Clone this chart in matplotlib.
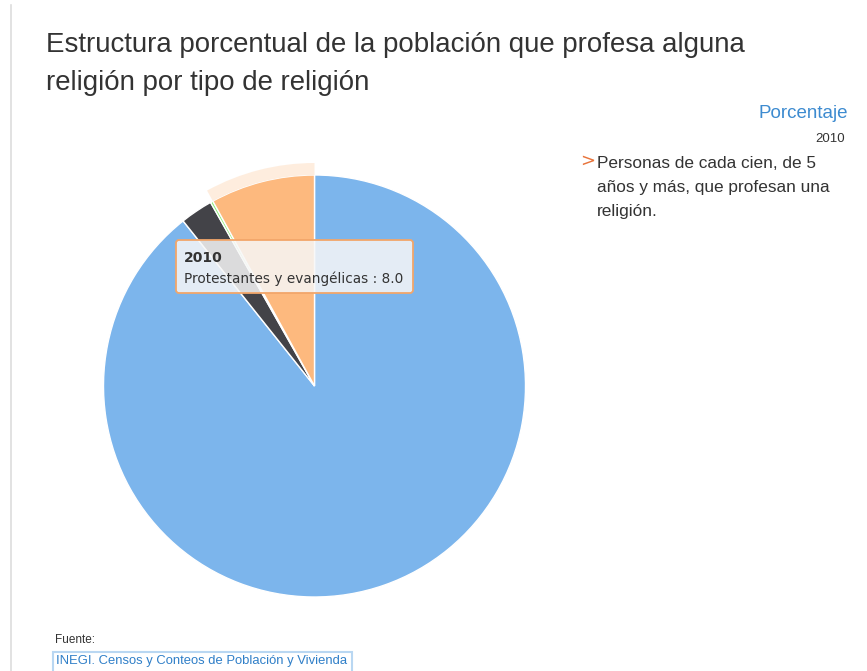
import matplotlib.pyplot as plt
from matplotlib.patches import Wedge, FancyBboxPatch, Rectangle

# Religion structure, 2010 (percent of people 5+ who profess a religion)
categorias = ['Católica', 'Bíblicas diferentes de evangélicas', 'Otras religiones',
              'Protestantes y evangélicas']
valores = [89.3, 2.5, 0.2, 8.0]
colores = ['#7cb5ec', '#434348', '#90ed7d', '#fdb97e']
anio = '2010'
resaltado = 3  # slice under the tooltip

W, H = 867, 671
fig = plt.figure(figsize=(W / 100, H / 100), dpi=100)
ax = fig.add_axes([0, 0, 1, 1])

def py(y):  # pixel row -> data y
    return H - y

cx, cy, r = 314.5, py(386), 211
wedges, _ = ax.pie(valores, colors=colores, startangle=90, counterclock=False,
                   center=(cx, cy), radius=r,
                   wedgeprops=dict(edgecolor='white', linewidth=1))

# hover halo around the highlighted slice
w = wedges[resaltado]
ax.add_patch(Wedge((cx, cy), r + 12, w.theta1, w.theta2, width=12,
                   facecolor=colores[resaltado], alpha=0.25, edgecolor='none'))

ax.set_xlim(0, W)
ax.set_ylim(0, H)
ax.set_aspect('auto')
ax.axis('off')

# left border line
ax.plot([11, 11], [py(5), py(671)], color='#dddddd', lw=1.2)

titulo = 'Estructura porcentual de la población que profesa alguna\nreligión por tipo de religión'
ax.text(46, py(32), titulo, fontsize=19.9, family='Liberation Sans', color='#333333',
        va='top', ha='left', linespacing=1.58)

ax.text(848, py(113), 'Porcentaje', fontsize=13.5, family='Liberation Sans',
        color='#3d8bd0', ha='right', va='center')
ax.text(845, py(139), anio, fontsize=9.5, family='Liberation Sans',
        color='#333333', ha='right', va='center')
ax.text(580, py(161), '>', fontsize=13, family='DejaVu Sans', color='#e8743b',
        ha='left', va='center')
ax.text(597, py(156), 'Personas de cada cien, de 5\naños y más, que profesan una\nreligión.',
        fontsize=12.4, family='Liberation Sans', color='#333333', ha='left', va='top',
        linespacing=1.76)

# tooltip
tt = FancyBboxPatch((176, py(293)), 237, 53, boxstyle='round,pad=0,rounding_size=3',
                    facecolor='#f7f7f7', alpha=0.85, edgecolor='none', zorder=5)
ax.add_patch(tt)
ax.add_patch(FancyBboxPatch((176, py(293)), 237, 53, boxstyle='round,pad=0,rounding_size=3',
                            facecolor='none', edgecolor='#f2a66a', lw=1.3, zorder=6))
ax.text(184, py(258), anio, fontsize=10, fontweight='bold', family='DejaVu Sans',
        color='#333333', ha='left', va='center', zorder=7)
ax.text(184, py(279), f'{categorias[resaltado]} : {valores[resaltado]:.1f}', fontsize=9.8,
        family='DejaVu Sans', color='#333333', ha='left', va='center', zorder=7)

# source
ax.text(55, py(640), 'Fuente:', fontsize=8.5, family='Liberation Sans', color='#333333',
        ha='left', va='center')
ax.add_patch(Rectangle((53, py(675)), 299, 23, facecolor='none', edgecolor='#b9d7f2', lw=1.5))
ax.text(56, py(661), 'INEGI. Censos y Conteos de Población y Vivienda', fontsize=9.4,
        family='Liberation Sans', color='#2f7fc8', ha='left', va='center')

fig.savefig('out.png', dpi=100)
